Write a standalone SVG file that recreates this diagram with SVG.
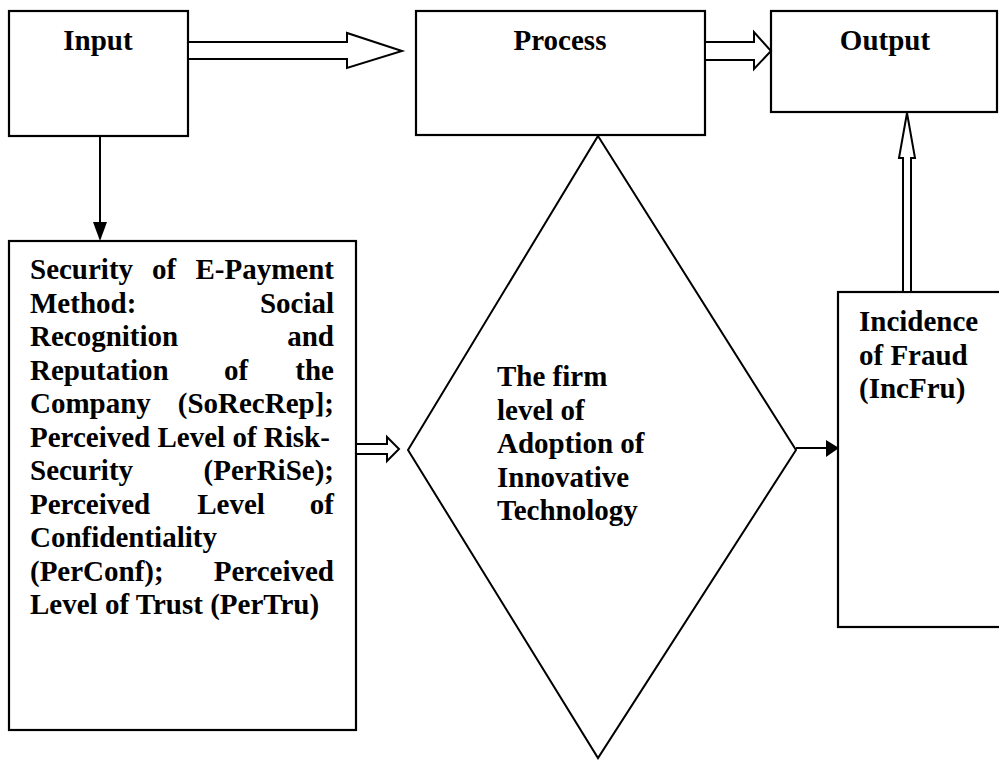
<svg xmlns="http://www.w3.org/2000/svg" width="999" height="767" viewBox="0 0 999 767">
<style>
.box{fill:#fff;stroke:#000;stroke-width:2.2}
.shape{fill:#fff;stroke:#000;stroke-width:2}
.hollow{fill:#fff;stroke:#000;stroke-width:2;stroke-linejoin:miter}
.line{fill:none;stroke:#000;stroke-width:2}
.head{fill:#000;stroke:none}
text{font-family:"Liberation Serif","Times New Roman",serif;font-weight:bold;font-size:29px;fill:#000}
.c{text-anchor:middle}
.e{text-anchor:end}
</style>
<rect width="999" height="767" fill="#fff"/>
<g id="input">
<rect class="box" x="9" y="11" width="179" height="125"/>
<text class="c" x="98" y="50">Input</text>
</g>
<g id="process">
<rect class="box" x="416" y="11" width="289" height="124"/>
<text class="c" x="560" y="50">Process</text>
</g>
<g id="output">
<rect class="box" x="771" y="11" width="226" height="101"/>
<text class="c" x="885" y="50">Output</text>
</g>
<g id="security">
<rect class="box" x="9" y="241" width="347" height="489"/>
<text x="30" y="279">Security</text><text class="c" x="164" y="279">of</text><text class="e" x="334" y="279">E-Payment</text>
<text x="30" y="312.5">Method:</text><text class="e" x="334" y="312.5">Social</text>
<text x="30" y="346">Recognition</text><text class="e" x="334" y="346">and</text>
<text x="30" y="379.5">Reputation</text><text class="c" x="236" y="379.5">of</text><text class="e" x="334" y="379.5">the</text>
<text x="30" y="413">Company</text><text class="e" x="334" y="413">(SoRecRep];</text>
<text x="30" y="446.5">Perceived Level of Risk-</text>
<text x="30" y="480">Security</text><text class="e" x="334" y="480">(PerRiSe);</text>
<text x="30" y="513.5">Perceived</text><text class="c" x="231" y="513.5">Level</text><text class="e" x="334" y="513.5">of</text>
<text x="30" y="547">Confidentiality</text>
<text x="30" y="580.5">(PerConf);</text><text class="e" x="334" y="580.5">Perceived</text>
<text x="30" y="614">Level of Trust (PerTru)</text>
</g>
<g id="adoption">
<polygon class="shape" points="598,136 796,450 598,758 408,450"/>
<text x="497" y="386">The firm</text>
<text x="497" y="419.5">level of</text>
<text x="497" y="453">Adoption of</text>
<text x="497" y="486.5">Innovative</text>
<text x="497" y="520">Technology</text>
</g>
<g id="fraud">
<rect class="box" x="838" y="292" width="163" height="335"/>
<text x="859" y="331">Incidence</text>
<text x="859" y="364.5">of Fraud</text>
<text x="859" y="398">(IncFru)</text>
</g>
<g id="connectors">
<polygon class="hollow" points="188,42 347,42 347,33 402,51 347,68 347,59 188,59"/>
<polygon class="hollow" points="705,42 754,42 754,32 771,51 754,69 754,60 705,60"/>
<polygon class="hollow" points="356,444 387,444 387,437 399,449 387,461 387,454 356,454"/>
<polygon class="hollow" points="903,292 903,158 899,158 907,113 915,158 911,158 911,292"/>
<line class="line" x1="100" y1="136" x2="100" y2="224"/>
<polygon class="head" points="93,222 107,222 100,241"/>
<line class="line" x1="796" y1="448" x2="830" y2="448"/>
<polygon class="head" points="826,440 826,457 839,448"/>
</g>
</svg>
